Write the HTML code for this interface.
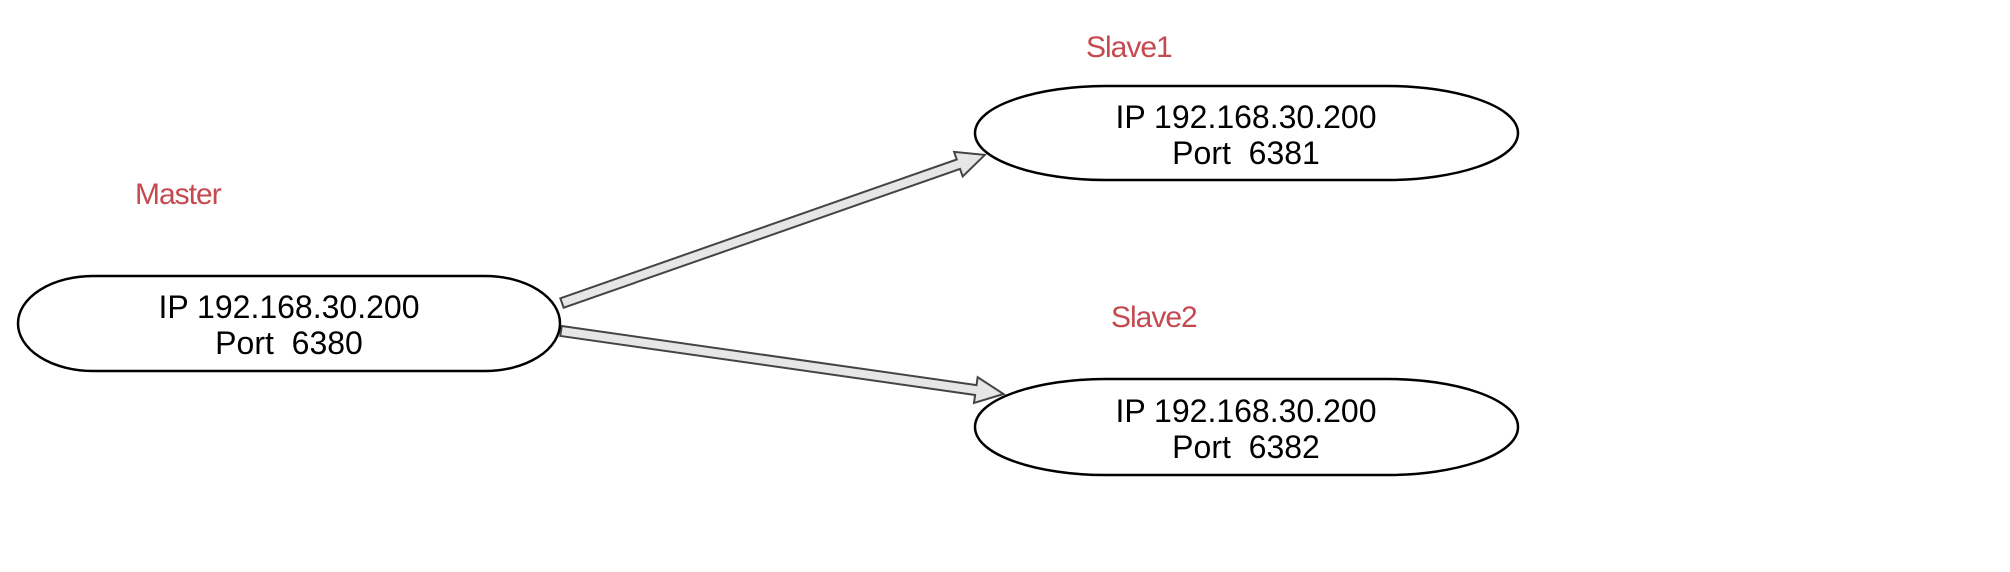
<!DOCTYPE html>
<html><head><meta charset="utf-8"><style>
html,body{margin:0;padding:0;background:#fff;}
svg{display:block;}
</style></head><body>
<svg width="2010" height="572" viewBox="0 0 2010 572" xmlns="http://www.w3.org/2000/svg">
<rect width="2010" height="572" fill="#fff"/>
<g fill="#e6e6e6" stroke="#444" stroke-width="2" stroke-linejoin="miter">
<polygon transform="translate(562,303) rotate(-19.3)" points="0,-5 420,-5 420,-13 448,0 420,13 420,5 0,5"/>
<polygon transform="translate(561,331) rotate(8.1)" points="0,-5 419,-5 419,-13 447,0 419,13 419,5 0,5"/>
</g>
<g fill="#fff" stroke="#000" stroke-width="2.5">
<rect x="18" y="276" width="542" height="95" rx="75" ry="47.5"/>
<path d="M975,133 C975,105 1040,86 1105,86 L1388,86 C1453,86 1518,105 1518,133 C1518,161 1453,180 1388,180 L1105,180 C1040,180 975,161 975,133 Z"/>
<path d="M975,427 C975,398 1040,379 1105,379 L1388,379 C1453,379 1518,398 1518,427 C1518,456 1453,475 1388,475 L1105,475 C1040,475 975,456 975,427 Z"/>
</g>
<g font-family="'Liberation Sans', sans-serif" font-size="32" fill="#000" text-anchor="middle" xml:space="preserve">
<text x="289" y="318">IP 192.168.30.200</text>
<text x="289" y="354">Port&#160; 6380</text>
<text x="1246" y="128">IP 192.168.30.200</text>
<text x="1246" y="164">Port&#160; 6381</text>
<text x="1246" y="422">IP 192.168.30.200</text>
<text x="1246" y="458">Port&#160; 6382</text>
</g>
<g font-family="'Liberation Sans', sans-serif" font-size="30" fill="#c44a50" letter-spacing="-1">
<text x="135" y="204">Master</text>
<text x="1086" y="57">Slave1</text>
<text x="1111" y="327">Slave2</text>
</g>
</svg>
</body></html>
